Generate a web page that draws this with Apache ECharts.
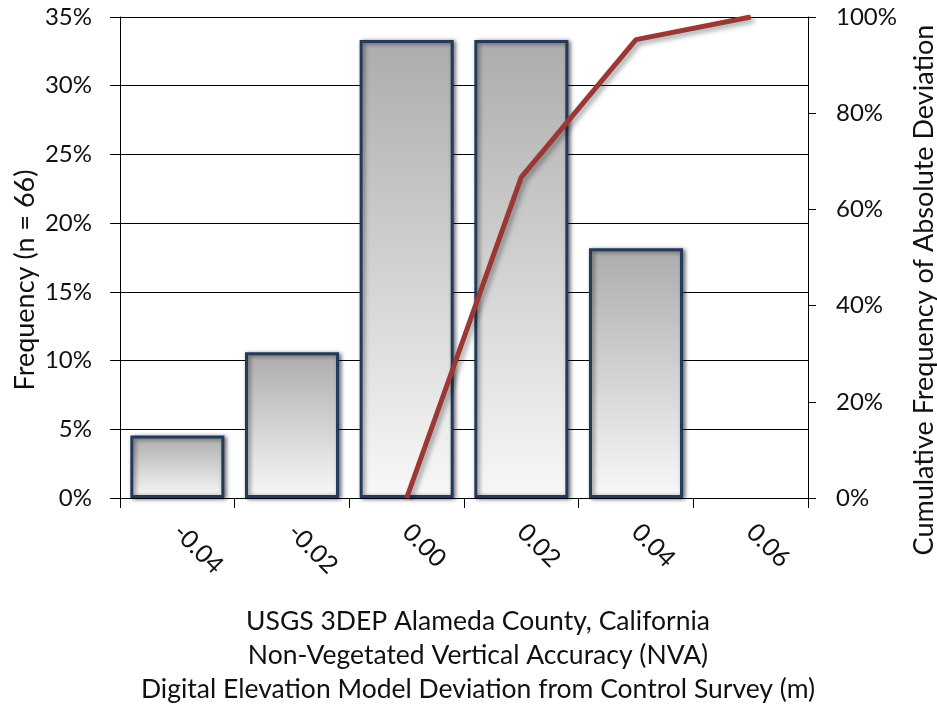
<!DOCTYPE html>
<html><head><meta charset="utf-8">
<script src="https://cdn.jsdelivr.net/npm/echarts@6/dist/echarts.min.js"></script>
<style>html,body{margin:0;padding:0;background:#fff}#c{width:937px;height:711px}</style>
</head><body><div id="c"></div>
<script>
const categories = ['-0.04','-0.02','0.00','0.02','0.04','0.06'];
const frequency = [4.55, 10.61, 33.33, 33.33, 18.18, null];
const cumulative = [null, null, 0, 66.7, 95.3, 100];
const leftName = 'Frequency (n = 66)';
const rightName = 'Cumulative Frequency of Absolute Deviation';
const titleLines = ['USGS 3DEP Alameda County, California','Non-Vegetated Vertical Accuracy (NVA)','Digital Elevation Model Deviation from Control Survey (m)'];
const FONT = 'Lato, "Open Sans", sans-serif';
const chart = echarts.init(document.getElementById('c'));
chart.setOption({
  animation:false,
  backgroundColor:'#fff',
  grid:{left:120,right:129,top:17,bottom:213},
  xAxis:{type:'category',data:categories,boundaryGap:true,
    axisLine:{lineStyle:{color:'#000',width:1}},
    axisTick:{show:true,length:10,lineStyle:{color:'#000'}},
    axisLabel:{rotate:-45,margin:30,fontSize:25,color:'#111',fontFamily:FONT}},
  yAxis:[
    {type:'value',min:0,max:35,interval:5,position:'left',
     axisLine:{show:true,lineStyle:{color:'#000'}},
     axisTick:{show:true,length:10,lineStyle:{color:'#000'}},
     axisLabel:{formatter:'{value}%',margin:28,fontSize:24,color:'#111',fontFamily:FONT},
     splitLine:{show:true,lineStyle:{color:'#000',width:1}}},
    {type:'value',min:0,max:100,interval:20,position:'right',
     axisLine:{show:true,lineStyle:{color:'#000'}},
     axisTick:{show:true,length:8,lineStyle:{color:'#000'}},
     axisLabel:{formatter:'{value}%',margin:28,fontSize:24,color:'#111',fontFamily:FONT},
     splitLine:{show:false}}
  ],
  series:[
    {type:'bar',data:frequency,yAxisIndex:0,barWidth:'82%',
     itemStyle:{color:new echarts.graphic.LinearGradient(0,0,0,1,[{offset:0,color:'#acacac'},{offset:1,color:'#f8f8f8'}]),
       borderColor:'#233a5c',borderWidth:3,shadowColor:'rgba(0,0,0,0.5)',shadowBlur:4,shadowOffsetX:2,shadowOffsetY:1}},
    {type:'line',data:cumulative,yAxisIndex:1,symbol:'none',connectNulls:false,
     lineStyle:{color:'#9b3734',width:5,shadowColor:'rgba(0,0,0,0.35)',shadowBlur:5,shadowOffsetX:3,shadowOffsetY:3}}
  ],
  graphic:[
    {type:'text',x:478,y:604,style:{text:titleLines.join('\n'),fontSize:26.5,lineHeight:34,fill:'#111',fontFamily:FONT,textAlign:'center'}},
    {type:'text',x:25,y:280,rotation:Math.PI/2,style:{text:leftName,fontSize:27,fill:'#111',fontFamily:FONT,textAlign:'center',textVerticalAlign:'middle'}},
    {type:'text',x:924,y:290,rotation:Math.PI/2,style:{text:rightName,fontSize:27,fill:'#111',fontFamily:FONT,textAlign:'center',textVerticalAlign:'middle'}}
  ]
});
</script></body></html>
